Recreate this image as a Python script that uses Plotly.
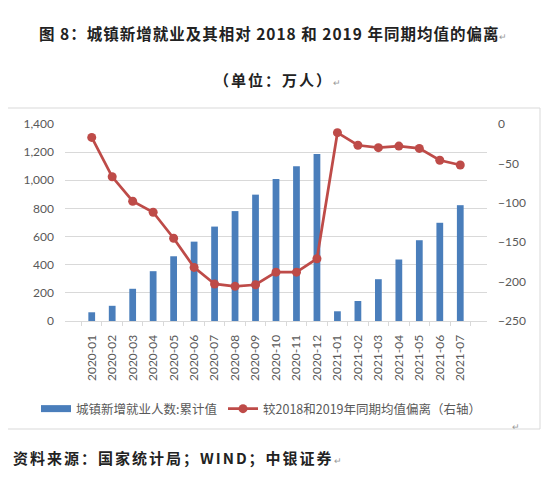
import plotly.graph_objects as go

months = ["2020-01","2020-02","2020-03","2020-04","2020-05","2020-06","2020-07","2020-08","2020-09","2020-10","2020-11","2020-12",
          "2021-01","2021-02","2021-03","2021-04","2021-05","2021-06","2021-07"]
new_jobs_cum = [62, 108, 229, 354, 460, 564, 671, 781, 898, 1009, 1099, 1186,
                69, 142, 297, 437, 574, 698, 823]
deviation = [-17, -67, -98, -112, -145, -182, -203, -206, -204, -188, -188, -171,
             -11, -27, -30, -28, -31, -46, -52]
left_ticks = [0, 200, 400, 600, 800, 1000, 1200, 1400]
right_ticks = [0, -50, -100, -150, -200, -250]

# page body has an 8px default margin; size the figure to fit the window
OFF = 8
W, H = 550 - OFF, 479 - OFF
def py(p):  # screen pixel y -> paper
    return (H - (p - OFF)) / H
def px(p):
    return (p - OFF) / W

BLUE = "#4a7ebb"
RED = "#be4b48"

fig = go.Figure()
fig.add_trace(go.Bar(x=months, y=new_jobs_cum, name="城镇新增就业人数:累计值",
                     marker=dict(color=BLUE, line=dict(width=0)), width=0.33, yaxis="y",
                     showlegend=False))
# legend proxy for the bar series (wide rectangle swatch)
fig.add_trace(go.Scatter(x=[None], y=[None], name="城镇新增就业人数:累计值", mode="lines",
                         line=dict(color=BLUE, width=7), yaxis="y", legend="legend"))
fig.add_trace(go.Scatter(x=months, y=deviation, name="较2018和2019年同期均值偏离（右轴）",
                         mode="lines+markers", line=dict(color=RED, width=2.75),
                         marker=dict(color=RED, size=9), yaxis="y2", legend="legend2"))

tickfont = dict(family="Lato, Noto Sans CJK SC, sans-serif", size=12, color="#595959")
legfont = dict(family="Noto Sans CJK SC, sans-serif", size=12.5, color="#595959")
fig.update_layout(
    width=W, height=H, margin=dict(l=0, r=0, t=0, b=0, autoexpand=False),
    paper_bgcolor="white", plot_bgcolor="white",
    showlegend=True,
    legend=dict(orientation="h", x=px(36), xanchor="left", y=py(409), yanchor="middle",
                font=legfont, bgcolor="rgba(0,0,0,0)"),
    legend2=dict(orientation="h", x=px(223), xanchor="left", y=py(409), yanchor="middle",
                 font=legfont, bgcolor="rgba(0,0,0,0)"),
    bargap=0.5,
    xaxis=dict(domain=[px(65), px(487)], type="category", tickangle=-90, automargin=False,
               tickfont=dict(family="Lato, sans-serif", size=12, color="#595959"),
               showgrid=False, showline=True, linecolor="#d9d9d9", linewidth=1,
               ticks="outside", ticklen=4, tickcolor="#d9d9d9", tickson="boundaries",
               ticklabelstandoff=8, anchor="y"),
    yaxis=dict(domain=[py(321), py(124)], range=[0, 1400], tickvals=left_ticks, automargin=False,
               tickformat=",", tickfont=tickfont, showgrid=True, gridcolor="#d9d9d9",
               gridwidth=1, zeroline=False, showline=False, ticklabelstandoff=10),
    yaxis2=dict(overlaying="y", side="right", range=[-250, 0], tickvals=right_ticks, automargin=False,
                tickfont=tickfont, showgrid=False, zeroline=False, showline=False,
                anchor="x", ticklabelstandoff=10),
    shapes=[dict(type="rect", xref="paper", yref="paper", x0=px(5), x1=px(540), y0=py(429), y1=py(108),
                 line=dict(color="#d9d9d9", width=1), fillcolor="rgba(0,0,0,0)", layer="below")],
    annotations=[
        dict(text="<b><span style='letter-spacing:1px'>图 8：城镇新增就业及其相对 2018 和 2019 年同期均值的偏离</span></b><span style='color:#999;font-size:9px'>↵</span>",
             x=px(273), y=py(33), xref="paper", yref="paper", xanchor="center", yanchor="middle",
             showarrow=False, font=dict(family="Noto Sans CJK SC, serif", size=15.5, color="#222")),
        dict(text="<b><span style='letter-spacing:2px'>（单位：万人）</span></b><span style='color:#999;font-size:9px'>↵</span>",
             x=px(277), y=py(80), xref="paper", yref="paper", xanchor="center", yanchor="middle",
             showarrow=False, font=dict(family="Noto Sans CJK SC, serif", size=15, color="#222")),
        dict(text="<b><span style='letter-spacing:2px'>资料来源：国家统计局；WIND；中银证券</span></b><span style='color:#999;font-size:9px'>↵</span>",
             x=px(11), y=py(457), xref="paper", yref="paper", xanchor="left", yanchor="middle",
             showarrow=False, font=dict(family="Noto Sans CJK SC, serif", size=15, color="#222")),
        dict(text="↵", x=px(516), y=py(426), xref="paper", yref="paper", xanchor="center", yanchor="middle",
             showarrow=False, font=dict(size=9, color="#999")),
    ],
)

fig.write_html("out.html")
